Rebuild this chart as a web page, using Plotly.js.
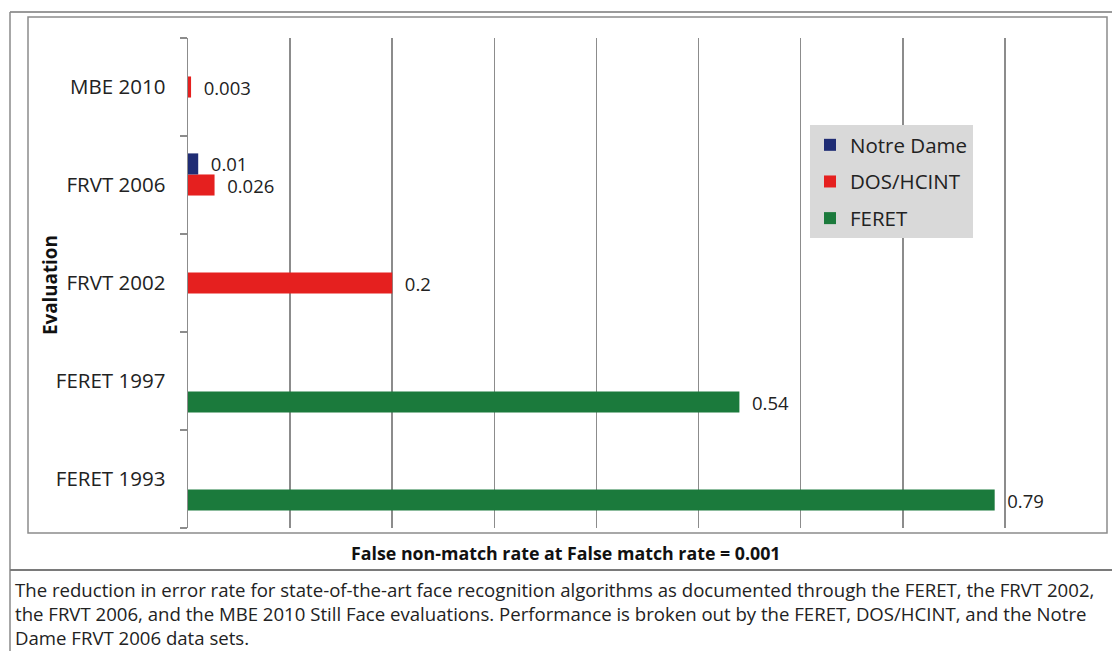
<!DOCTYPE html>
<html>
<head>
<meta charset="utf-8">
<script src="https://cdn.plot.ly/plotly-3.0.1.min.js"></script>
<style>html,body{margin:0;padding:0;background:#fff;}#chart{width:1112px;height:651px;}</style>
</head>
<body>
<div id="chart"></div>
<script>
// Data
const categories = ['FERET 1993', 'FERET 1997', 'FRVT 2002', 'FRVT 2006', 'MBE 2010'];
const notreDame = [null, null, null, 0.01, null];
const dosHcint  = [null, null, 0.2, 0.026, 0.003];
const feret     = [0.79, 0.54, null, null, null];
const xTitle = 'False non-match rate at False match rate = 0.001';
const yTitle = 'Evaluation';
const caption = 'The reduction in error rate for state-of-the-art face recognition algorithms as documented through the FERET, the FRVT 2002,<br>the FRVT 2006, and the MBE 2010 Still Face evaluations. Performance is broken out by the FERET, DOS/HCINT, and the Notre<br>Dame FRVT 2006 data sets.';

// Geometry helpers (pixel -> paper)
const W = 1112, H = 651;
const L = 188, R = 1107, T = 38, B = 528;
const px = x => (x - L) / (R - L);
const py = y => (B - y) / (B - T);

const FONT = '"Open Sans", Lato, sans-serif';
const colors = {'FERET': '#1b7a3c', 'DOS/HCINT': '#e5201f', 'Notre Dame': '#1f2c74'};
const ranks = {'Notre Dame': 1, 'DOS/HCINT': 2, 'FERET': 3};
const lbl = v => v == null ? '' : '\u00a0\u00a0' + v;

function barTrace(name, vals) {
  return {
    type: 'bar', orientation: 'h', name: name,
    y: categories, x: vals,
    marker: {color: colors[name]},
    text: vals.map(lbl), textposition: 'outside', constraintext: 'none',
    cliponaxis: false,
    textfont: {family: FONT, size: 18.5, color: '#222'},
    legendgroup: name, legendrank: ranks[name], hoverinfo: 'skip'
  };
}

const data = [
  barTrace('FERET', feret),
  barTrace('DOS/HCINT', dosHcint),
  barTrace('Notre Dame', notreDame)
];

const lineGray = '#8c8c8c';
const layout = {
  width: W, height: H,
  margin: {l: L, r: W - R, t: T, b: H - B, pad: 0},
  paper_bgcolor: '#fff', plot_bgcolor: '#fff',
  barmode: 'group', bargap: 0.355, bargroupgap: 0,
  showlegend: true,
  legend: {
    x: px(810), y: py(125), xanchor: 'left', yanchor: 'top',
    bgcolor: '#d9d9d9', borderwidth: 0,
    traceorder: 'grouped', tracegroupgap: 7,
    font: {family: FONT, size: 20.5, color: '#222'}
  },
  xaxis: {
    range: [0, 0.9], dtick: 0.1, showticklabels: false, ticks: '',
    showgrid: true, gridcolor: lineGray, gridwidth: 1.5,
    zeroline: false, showline: false, fixedrange: true
  },
  yaxis: {
    type: 'category', categoryorder: 'array', categoryarray: categories,
    tickson: 'boundaries', ticks: 'outside', ticklen: 7, tickcolor: lineGray, tickwidth: 1.5,
    showline: true, linecolor: lineGray, linewidth: 1.5,
    showgrid: false, zeroline: false, ticklabelstandoff: 17,
    tickfont: {family: FONT, size: 20.5, color: '#222'}, fixedrange: true
  },
  shapes: [
    {type: 'line', xref: 'paper', yref: 'paper', x0: px(10), x1: px(1112), y0: py(12), y1: py(12), line: {color: '#9a9a9a', width: 2}},
    {type: 'line', xref: 'paper', yref: 'paper', x0: px(10), x1: px(10), y0: py(12), y1: py(651), line: {color: '#8a8a8a', width: 1.5}},
    {type: 'rect', xref: 'paper', yref: 'paper', x0: px(28), x1: px(1107), y0: py(17), y1: py(533), line: {color: lineGray, width: 1.5}},
    {type: 'line', xref: 'paper', yref: 'paper', x0: px(10), x1: px(1112), y0: py(570), y1: py(570), line: {color: '#7a7a7a', width: 2}}
  ],
  annotations: [
    {text: '<b>' + xTitle + '</b>', xref: 'paper', yref: 'paper', x: px(566), y: py(553),
     xanchor: 'center', yanchor: 'middle', showarrow: false,
     font: {family: FONT, size: 17.8, color: '#111'}},
    {text: '<b>' + yTitle + '</b>', xref: 'paper', yref: 'paper', x: px(50), y: py(285),
     xanchor: 'center', yanchor: 'middle', showarrow: false, textangle: -90,
     font: {family: FONT, size: 18.8, color: '#111'}},
    {text: caption, xref: 'paper', yref: 'paper', x: px(13), y: py(575),
     xanchor: 'left', yanchor: 'top', align: 'left', showarrow: false,
     font: {family: FONT, size: 18.6, color: '#222'}}
  ]
};

Plotly.newPlot('chart', data, layout, {displayModeBar: false, staticPlot: true});
</script>
</body>
</html>
